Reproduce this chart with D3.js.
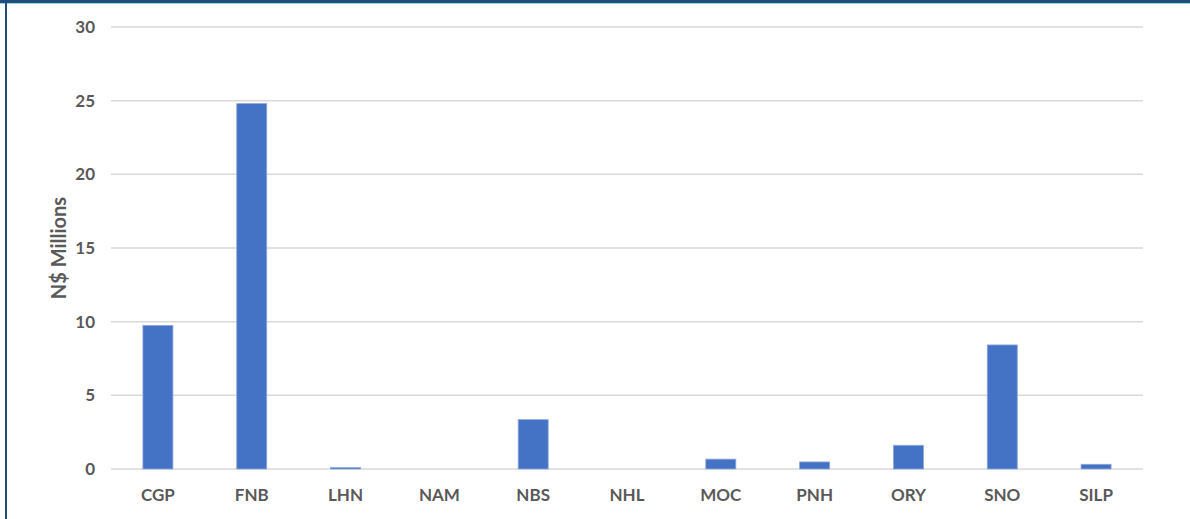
<!DOCTYPE html>
<html><head><meta charset="utf-8">
<script src="https://cdn.jsdelivr.net/npm/d3@7"></script>
<style>html,body{margin:0;padding:0;background:#fff;}svg{display:block;}</style>
</head><body>
<svg id="c" width="1190" height="519"></svg>
<script>
const categories = ["CGP","FNB","LHN","NAM","NBS","NHL","MOC","PNH","ORY","SNO","SILP"];
const values = [9.75, 24.8, 0.1, 0, 3.35, 0, 0.67, 0.48, 1.61, 8.42, 0.32];
const yTicks = [0, 5, 10, 15, 20, 25, 30];
const yTitle = "N$ Millions";

const svg = d3.select("#c");
const W = 1190, H = 519;
const m = {left: 111, right: 1143, top: 27, bottom: 469};
const font = "Lato, 'Open Sans', sans-serif";

// frame
svg.append("rect").attr("x",0).attr("y",0).attr("width",W).attr("height",3).attr("fill","#1f4e79");
svg.append("rect").attr("x",0).attr("y",3).attr("width",W).attr("height",1).attr("fill","#9fd3e6");
svg.append("rect").attr("x",5).attr("y",3).attr("width",2).attr("height",H).attr("fill","#1f4e79");

const x = d3.scaleBand().domain(categories).range([m.left, m.right]).paddingInner(0.68).paddingOuter(0.34);
const y = d3.scaleLinear().domain([0, 30]).range([m.bottom, m.top]);

// gridlines
svg.append("g").selectAll("line").data(yTicks).join("line")
  .attr("x1", m.left).attr("x2", m.right)
  .attr("y1", d => y(d)).attr("y2", d => y(d))
  .attr("stroke", "#d9d9d9").attr("stroke-width", 1.5);

// y axis labels
const yAxis = d3.axisLeft(y).tickValues(yTicks).tickSize(0).tickPadding(16);
const gy = svg.append("g").attr("transform", `translate(${m.left},0)`).call(yAxis);
gy.select(".domain").remove();
gy.selectAll("text").attr("font-family", font).attr("font-weight", "bold")
  .attr("font-size", 17).attr("fill", "#595959");

// bars
svg.append("g").selectAll("rect").data(categories).join("rect")
  .attr("x", d => x(d)).attr("width", x.bandwidth())
  .attr("y", (d,i) => y(values[i])).attr("height", (d,i) => y(0) - y(values[i]))
  .attr("fill", "#4472c4").attr("stroke", "#8eaadc").attr("stroke-width", 0.8);

// x axis labels
const xAxis = d3.axisBottom(x).tickSize(0).tickPadding(20);
const gx = svg.append("g").attr("transform", `translate(0,${m.bottom})`).call(xAxis);
gx.select(".domain").remove();
gx.selectAll("text").attr("font-family", font).attr("font-weight", "bold")
  .attr("font-size", 17).attr("fill", "#595959");

// y title
svg.append("text").attr("transform", `translate(66,${(m.top+m.bottom)/2}) rotate(-90)`)
  .attr("text-anchor", "middle").attr("font-family", font).attr("font-weight", "bold")
  .attr("font-size", 20).attr("fill", "#595959").text(yTitle);
</script>
</body></html>
